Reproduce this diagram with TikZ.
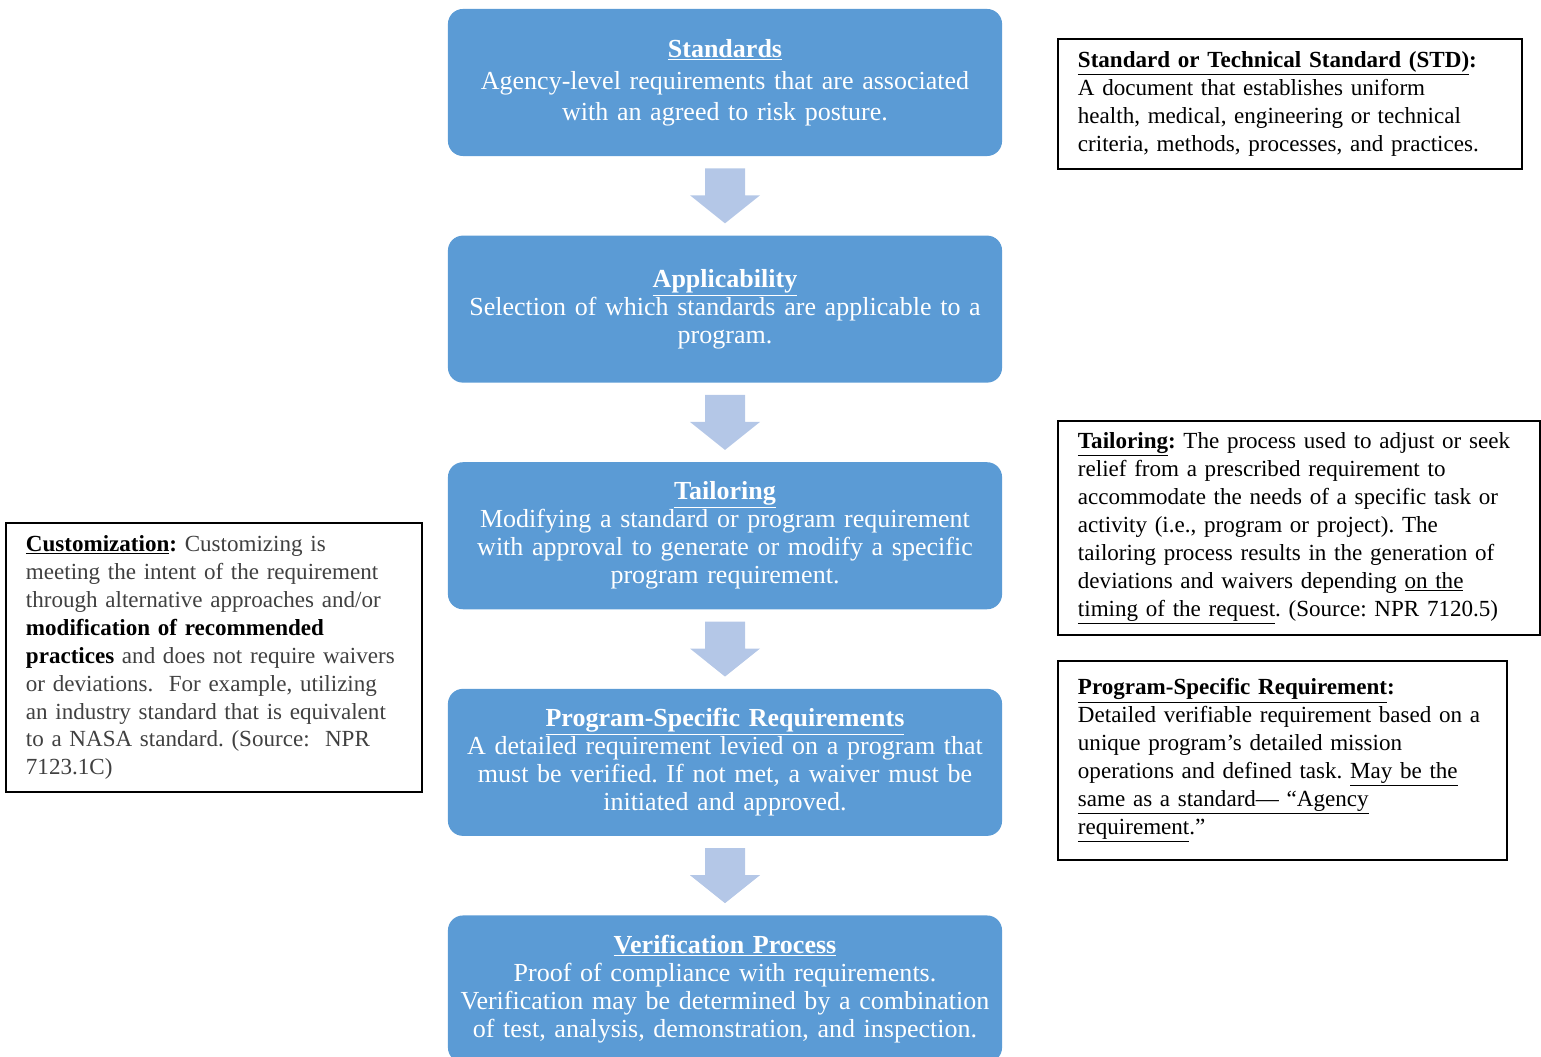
\documentclass[tikz,border=0pt]{standalone}
\usepackage{fontspec}
\setmainfont{Liberation Serif}
\usetikzlibrary{calc,positioning}
\frenchspacing
\hyphenpenalty=10000

\definecolor{stepblue}{HTML}{5B9BD5}
\definecolor{arrowblue}{HTML}{B4C7E7}
\definecolor{notegray}{HTML}{404040}

% block arrow from the bottom of one step to the top of the next
\newcommand{\flowarrow}[2]{%
  \fill[arrowblue] ($(#1.south)+(-20,12)$) -- ($(#1.south)+(20,12)$)
    -- ($(#1.south)+(20,39)$) -- ($(#1.south)+(35,39)$)
    -- ($(#2.north)+(0,-12)$)
    -- ($(#1.south)+(-35,39)$) -- ($(#1.south)+(-20,39)$) -- cycle;}

\begin{document}
\begin{tikzpicture}[x=0.025cm, y=-0.025cm,
    stepbox/.style={rectangle, rounded corners=0.375cm, fill=stepblue, text=white,
        minimum width=13.85cm, minimum height=3.675cm, text width=13.65cm,
        inner xsep=0.1cm, align=center, font=\fontsize{18.5}{19.9}\selectfont},
    notebox/.style={rectangle, draw=black, line width=1.3pt, inner xsep=0.5cm,
        align=left, font=\fontsize{16.4}{19.9}\selectfont}]
  \useasboundingbox (0,0) rectangle (1541,1057);

  % the five steps
  \node[stepbox] (std) at (725,82.5) {\underline{\textbf{Standards}}\\[3pt]
      Agency-level requirements that are associated\\[2pt]
      with an agreed to risk posture.};
  \node[stepbox, below=1.975cm of std] (app) {\underline{\textbf{Applicability}}\\
      Selection of which standards are applicable to a\\
      program.};
  \node[stepbox, below=1.975cm of app] (tail) {\underline{\textbf{Tailoring}}\\
      Modifying a standard or program requirement\\
      with approval to generate or modify a specific\\
      program requirement.};
  \node[stepbox, below=1.975cm of tail] (psr) {\underline{\textbf{Program-Specific Requirements}}\\
      A detailed requirement levied on a program that\\
      must be verified. If not met, a waiver must be\\
      initiated and approved.};
  \node[stepbox, below=1.975cm of psr] (ver) {\underline{\textbf{Verification Process}}\\
      Proof of compliance with requirements.\\
      Verification may be determined by a combination\\
      of test, analysis, demonstration, and inspection.};

  \foreach \a/\b in {std/app, app/tail, tail/psr, psr/ver}
    \flowarrow{\a}{\b};

  % definitions
  \node[notebox, minimum width=11.6cm, minimum height=3.25cm, text width=10.6cm]
      (stddef) at (1290,104) {\underline{\textbf{Standard or Technical Standard (STD)}}\textbf{:}\\
      A document that establishes uniform\\
      health, medical, engineering or technical\\
      criteria, methods, processes, and practices.};
  \node[notebox, minimum width=12.05cm, minimum height=5.35cm, text width=11.05cm]
      (taildef) at (1299,528) {\underline{\textbf{Tailoring}}\textbf{:} The process used to adjust or seek\\
      relief from a prescribed requirement to\\
      accommodate the needs of a specific task or\\
      activity (i.e., program or project). The\\
      tailoring process results in the generation of\\
      deviations and waivers depending \underline{on the}\\
      \underline{timing of the request}. (Source: NPR 7120.5)};
  \node[notebox, minimum width=11.225cm, minimum height=4.975cm, text width=10.225cm]
      (psrdef) at (1282.5,760.5) {\underline{\textbf{Program-Specific Requirement}}\textbf{:}\\
      Detailed verifiable requirement based on a\\
      unique program’s detailed mission\\
      operations and defined task. \underline{May be the}\\
      \underline{same as a standard— “Agency}\\
      \underline{requirement}.”};
  \node[notebox, text=notegray, minimum width=10.4cm, minimum height=6.725cm, text width=9.4cm]
      (custdef) at (214,657.5) {\textcolor{black}{\underline{\textbf{Customization}}\textbf{:}} Customizing is\\
      meeting the intent of the requirement\\
      through alternative approaches and/or\\
      \textcolor{black}{\textbf{modification of recommended}}\\
      \textcolor{black}{\textbf{practices}} and does not require waivers\\
      or deviations.\ \ For example, utilizing\\
      an industry standard that is equivalent\\
      to a NASA standard. (Source:\ \ NPR\\
      7123.1C)};
\end{tikzpicture}
\end{document}
